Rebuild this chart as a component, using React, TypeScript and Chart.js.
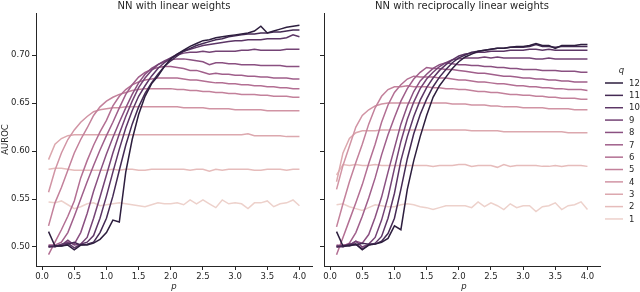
import React, { useEffect, useRef } from "react";
import { Chart, registerables } from "chart.js";

Chart.register(...registerables);

const P = [0.1, 0.2, 0.3, 0.4, 0.5, 0.6, 0.7, 0.8, 0.9, 1.0, 1.1, 1.2, 1.3, 1.4, 1.5, 1.6, 1.7, 1.8, 1.9, 2.0,
  2.1, 2.2, 2.3, 2.4, 2.5, 2.6, 2.7, 2.8, 2.9, 3.0, 3.1, 3.2, 3.3, 3.4, 3.5, 3.6, 3.7, 3.8, 3.9, 4.0];
const Q = [1, 2, 3, 4, 5, 6, 7, 8, 9, 10, 11, 12];
const Y_TICKS = [0.5, 0.55, 0.6, 0.65, 0.7];
const X_TICKS = [0, 0.5, 1, 1.5, 2, 2.5, 3, 3.5, 4];
const LEFT_TITLE = "NN with linear weights";
const RIGHT_TITLE = "NN with reciprocally linear weights";
const Y_LABEL = "AUROC";
const X_LABEL = "p";
const LEGEND_TITLE = "q";

// Left panel: NN with linear weights
const L1 = [.547,.546,.548,.544,.540,.542,.545,.546,.543,.544,.545,.546,.545,.544,.543,.542,.544,.546,.545,.545,.546,.544,.549,.545,.549,.545,.541,.549,.545,.546,.545,.540,.546,.546,.548,.542,.545,.546,.549,.543];
const L2 = [.581,.582,.582,.581,.580,.580,.580,.580,.580,.580,.581,.580,.581,.581,.580,.580,.581,.581,.581,.581,.581,.581,.580,.581,.581,.579,.581,.580,.581,.581,.581,.581,.580,.580,.581,.581,.581,.580,.581,.581];
const L3 = [.591,.607,.613,.616,.617,.617,.617,.617,.617,.617,.617,.617,.617,.617,.617,.617,.617,.617,.617,.617,.617,.617,.617,.617,.617,.617,.617,.617,.617,.617,.617,.618,.616,.616,.616,.616,.616,.615,.615,.615];
const L4 = [.557,.580,.598,.612,.622,.630,.636,.641,.643,.644,.645,.645,.646,.646,.646,.646,.646,.646,.646,.646,.646,.645,.645,.645,.645,.644,.644,.644,.644,.643,.643,.643,.643,.643,.642,.642,.642,.642,.642,.642];
const L5 = [.522,.546,.562,.580,.598,.612,.624,.637,.646,.652,.656,.659,.661,.663,.664,.665,.665,.665,.665,.665,.664,.664,.663,.663,.662,.662,.661,.661,.660,.660,.659,.659,.659,.658,.658,.657,.657,.657,.656,.656];
const L6 = [.492,.505,.518,.532,.548,.572,.590,.606,.620,.632,.647,.657,.664,.669,.672,.674,.675,.676,.676,.676,.676,.675,.674,.674,.673,.672,.671,.671,.670,.670,.669,.669,.668,.668,.667,.667,.666,.666,.665,.665];
const L7 = [.502,.502,.505,.515,.532,.550,.568,.585,.601,.616,.630,.645,.659,.669,.677,.682,.685,.687,.688,.688,.687,.686,.684,.684,.682,.680,.681,.680,.680,.679,.679,.678,.678,.677,.677,.676,.676,.676,.675,.675];
const L8 = [.501,.501,.502,.505,.503,.515,.535,.558,.578,.597,.614,.630,.645,.659,.671,.680,.686,.690,.693,.695,.696,.696,.695,.694,.693,.690,.692,.692,.691,.691,.690,.690,.690,.689,.689,.689,.689,.688,.688,.688];
const L9 = [.500,.501,.502,.507,.502,.503,.510,.530,.552,.575,.598,.618,.636,.652,.666,.676,.684,.690,.694,.697,.700,.702,.703,.703,.704,.703,.704,.704,.704,.704,.705,.705,.706,.705,.705,.705,.705,.706,.706,.706];
const L10 = [.501,.500,.503,.504,.499,.503,.505,.512,.530,.553,.578,.602,.624,.642,.657,.668,.678,.686,.692,.697,.701,.704,.706,.708,.710,.711,.712,.713,.714,.715,.715,.716,.716,.716,.717,.717,.717,.718,.721,.719];
const L11 = [.500,.501,.501,.503,.505,.502,.503,.505,.515,.530,.553,.580,.606,.628,.646,.660,.671,.680,.688,.694,.699,.704,.707,.710,.712,.714,.716,.717,.719,.720,.721,.722,.722,.723,.723,.724,.724,.725,.726,.726];
const L12 = [.516,.501,.501,.502,.497,.502,.502,.504,.508,.515,.528,.526,.578,.612,.638,.657,.670,.678,.688,.696,.701,.705,.709,.712,.715,.716,.718,.719,.720,.721,.722,.723,.725,.730,.723,.725,.727,.729,.730,.731];

// Right panel: NN with reciprocally linear weights
const R1 = [.544,.545,.542,.540,.538,.541,.544,.543,.542,.542,.544,.545,.544,.542,.541,.539,.541,.543,.543,.543,.543,.541,.547,.542,.546,.543,.539,.545,.541,.543,.543,.537,.542,.543,.546,.539,.543,.544,.547,.539];
const R2 = [.575,.586,.585,.586,.585,.585,.586,.585,.585,.585,.585,.585,.585,.585,.585,.584,.585,.585,.585,.586,.586,.584,.585,.585,.585,.583,.586,.584,.585,.585,.585,.585,.584,.584,.585,.584,.585,.585,.585,.584];
const R3 = [.568,.598,.613,.619,.621,.621,.621,.622,.622,.622,.622,.622,.622,.622,.622,.622,.622,.622,.622,.622,.622,.621,.621,.621,.621,.621,.620,.620,.620,.620,.620,.620,.620,.620,.620,.620,.619,.619,.619,.619];
const R4 = [.560,.585,.605,.625,.637,.643,.647,.649,.650,.650,.650,.650,.650,.650,.650,.650,.650,.650,.649,.649,.649,.648,.648,.648,.647,.647,.646,.646,.646,.645,.645,.645,.645,.644,.644,.644,.644,.643,.643,.643];
const R5 = [.521,.545,.568,.588,.607,.628,.645,.657,.664,.667,.667,.668,.667,.667,.667,.666,.666,.665,.665,.664,.664,.663,.662,.662,.661,.661,.660,.659,.659,.658,.658,.657,.657,.656,.656,.655,.655,.655,.654,.654];
const R6 = [.492,.510,.528,.546,.565,.587,.607,.630,.648,.661,.669,.675,.678,.677,.677,.677,.676,.676,.675,.674,.674,.673,.672,.672,.671,.670,.670,.669,.668,.668,.667,.667,.666,.666,.665,.665,.664,.664,.664,.663];
const R7 = [.502,.501,.504,.515,.532,.551,.572,.596,.617,.635,.652,.665,.675,.682,.687,.686,.686,.685,.685,.684,.683,.682,.681,.681,.680,.679,.678,.678,.677,.676,.676,.675,.675,.674,.674,.673,.673,.672,.672,.672];
const R8 = [.501,.502,.502,.506,.504,.513,.531,.552,.578,.603,.628,.647,.662,.673,.680,.686,.690,.692,.691,.690,.690,.689,.689,.688,.688,.687,.687,.686,.686,.685,.685,.685,.684,.684,.684,.683,.683,.683,.682,.682];
const R9 = [.500,.501,.502,.506,.500,.503,.510,.528,.552,.582,.610,.633,.651,.665,.675,.682,.688,.692,.695,.696,.697,.697,.697,.698,.697,.698,.697,.697,.697,.697,.697,.696,.696,.697,.696,.696,.696,.696,.696,.696];
const R10 = [.501,.500,.503,.503,.498,.502,.504,.511,.530,.556,.590,.615,.636,.653,.666,.676,.684,.690,.695,.699,.701,.702,.703,.703,.704,.704,.704,.705,.705,.705,.706,.706,.705,.706,.705,.705,.705,.705,.705,.705];
const R11 = [.500,.501,.502,.502,.504,.503,.503,.506,.514,.530,.560,.592,.618,.638,.654,.667,.677,.685,.692,.697,.700,.703,.704,.705,.706,.707,.707,.708,.708,.708,.709,.711,.709,.709,.708,.709,.709,.709,.709,.709];
const R12 = [.516,.501,.501,.503,.497,.502,.503,.505,.509,.522,.518,.560,.590,.615,.637,.656,.668,.677,.686,.693,.698,.701,.704,.705,.706,.707,.707,.708,.709,.709,.710,.712,.710,.710,.707,.710,.710,.710,.711,.711];

const LEFT_SERIES = [L1, L2, L3, L4, L5, L6, L7, L8, L9, L10, L11, L12];
const RIGHT_SERIES = [R1, R2, R3, R4, R5, R6, R7, R8, R9, R10, R11, R12];

const FONT = "'DejaVu Sans', sans-serif";
const INK = "#262626";

// seaborn default cubehelix palette for numeric hue (light=.85 -> dark=.15)
function cubehelix(x: number): string {
  const hue = 0.8, rot = 0.4, start = 0;
  const a = (hue * x * (1 - x)) / 2;
  const phi = 2 * Math.PI * (start / 3 + rot * x);
  const c = Math.cos(phi), s = Math.sin(phi);
  const clip = (v: number) => Math.max(0, Math.min(1, v));
  const r = clip(x + a * (-0.14861 * c + 1.78277 * s));
  const g = clip(x + a * (-0.29227 * c - 0.90649 * s));
  const b = clip(x + a * (1.97294 * c));
  return `rgb(${Math.round(r * 255)},${Math.round(g * 255)},${Math.round(b * 255)})`;
}
function colorFor(q: number): string {
  const t = (q - Q[0]) / (Q[Q.length - 1] - Q[0]);
  return cubehelix(0.85 - 0.7 * t);
}

function makeConfig(series: number[][], side: "left" | "right"): any {
  const isLeft = side === "left";
  const datasets = Q.map((q, i) => ({
    label: String(q),
    data: P.map((p, j) => ({ x: p, y: series[i][j] })),
    borderColor: colorFor(q),
    backgroundColor: colorFor(q),
    borderWidth: 1.5,
    pointRadius: 0,
    tension: 0,
    fill: false,
    order: Q.length - q,
  }));

  const textPlugin = {
    id: "texts-" + side,
    afterDraw(chart: any) {
      const ctx = chart.ctx;
      const a = chart.chartArea;
      const cx = (a.left + a.right) / 2;
      ctx.save();
      ctx.fillStyle = INK;
      ctx.textAlign = "center";
      ctx.textBaseline = "middle";
      ctx.font = `10px ${FONT}`;
      ctx.fillText(isLeft ? LEFT_TITLE : RIGHT_TITLE, cx, 6.5);
      ctx.font = `italic 8.5px ${FONT}`;
      ctx.fillText(X_LABEL, cx + (isLeft ? 0 : 2), 287);
      if (isLeft) {
        ctx.save();
        ctx.translate(5.5, (a.top + a.bottom) / 2);
        ctx.rotate(-Math.PI / 2);
        ctx.font = `8.5px ${FONT}`;
        ctx.fillText(Y_LABEL, 0, 0);
        ctx.restore();
      } else {
        // legend
        ctx.font = `italic 8.5px ${FONT}`;
        ctx.fillText(LEGEND_TITLE, 621.5, 70.5);
        const order = [...Q].reverse();
        ctx.textAlign = "left";
        ctx.font = `8.5px ${FONT}`;
        order.forEach((q, k) => {
          const y = 83 + k * 12.36;
          ctx.strokeStyle = colorFor(q);
          ctx.lineWidth = 1.5;
          ctx.beginPath();
          ctx.moveTo(605, y);
          ctx.lineTo(623, y);
          ctx.stroke();
          ctx.fillStyle = INK;
          ctx.fillText(String(q), 629, y + 0.5);
        });
      }
      ctx.restore();
    },
  };

  return {
    type: "line",
    data: { datasets },
    options: {
      animation: false,
      responsive: false,
      devicePixelRatio: 1,
      parsing: false,
      normalized: true,
      layout: {
        padding: isLeft
          ? { left: 0, right: 328, top: 13, bottom: 0 }
          : { left: 318, right: 40, top: 13, bottom: 0 },
      },
      plugins: { legend: { display: false }, title: { display: false }, tooltip: { enabled: false } },
      scales: {
        x: {
          type: "linear",
          min: -0.095,
          max: 4.195,
          afterBuildTicks: (s: any) => { s.ticks = X_TICKS.map((v) => ({ value: v })); },
          afterFit: (s: any) => { s.height = 26; },
          ticks: {
            font: { family: FONT, size: 8.5 },
            color: INK,
            padding: 2,
            maxRotation: 0,
            autoSkip: false,
            callback: (v: any) => Number(v).toFixed(1),
          },
          grid: { drawOnChartArea: false, drawTicks: true, tickLength: 4, color: INK, lineWidth: 1 },
          border: { display: true, color: INK, width: 1 },
        },
        y: {
          type: "linear",
          min: 0.4802,
          max: 0.7438,
          afterBuildTicks: (s: any) => { s.ticks = Y_TICKS.map((v) => ({ value: v })); },
          afterFit: (s: any) => { s.width = isLeft ? 36 : 6; },
          ticks: {
            display: isLeft,
            font: { family: FONT, size: 8.5 },
            color: INK,
            padding: 2,
            callback: (v: any) => Number(v).toFixed(2),
          },
          grid: { drawOnChartArea: false, drawTicks: true, tickLength: 4, color: INK, lineWidth: 1 },
          border: { display: true, color: INK, width: 1 },
        },
      },
    },
    plugins: [textPlugin],
  };
}

export default function App() {
  const leftRef = useRef<HTMLCanvasElement>(null);
  const rightRef = useRef<HTMLCanvasElement>(null);
  useEffect(() => {
    const c1 = new Chart(leftRef.current as HTMLCanvasElement, makeConfig(LEFT_SERIES, "left"));
    const c2 = new Chart(rightRef.current as HTMLCanvasElement, makeConfig(RIGHT_SERIES, "right"));
    return () => {
      c1.destroy();
      c2.destroy();
    };
  }, []);
  const cs: React.CSSProperties = { position: "absolute", left: 0, top: 0, width: 640, height: 292 };
  return (
    <div style={{ position: "fixed", left: 0, top: 0, width: 640, height: 292, background: "#fff" }}>
      <canvas ref={leftRef} width={640} height={292} style={cs} />
      <canvas ref={rightRef} width={640} height={292} style={cs} />
    </div>
  );
}
